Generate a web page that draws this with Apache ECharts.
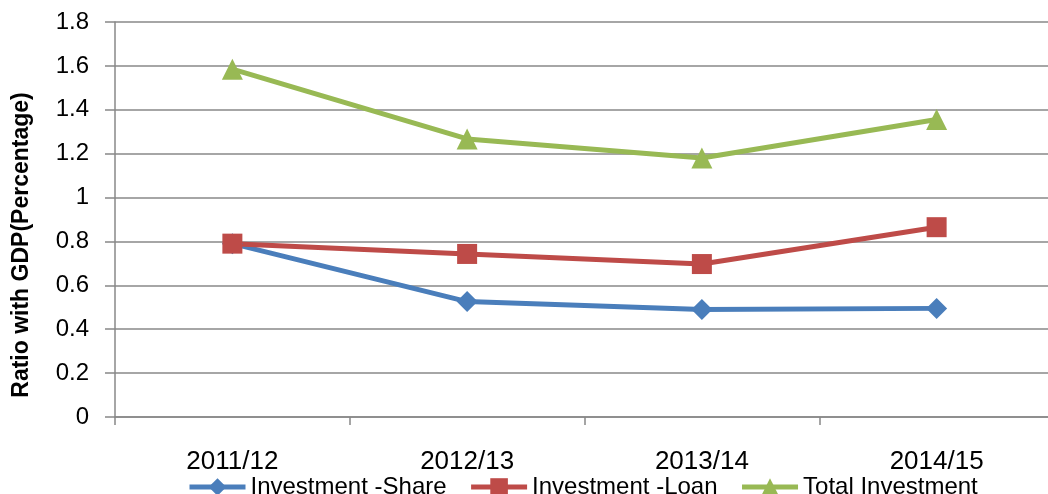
<!DOCTYPE html>
<html>
<head>
<meta charset="utf-8">
<script src="https://cdn.jsdelivr.net/npm/echarts@6/dist/echarts.min.js"></script>
<style>
    html, body { margin: 0; padding: 0; background: #fff; }
    #main { width: 1048px; height: 494px; }
</style>
</head>
<body>
<div id="main"></div>
<script>
    const years = ['2011/12', '2012/13', '2013/14', '2014/15'];
    const shareData = [0.79, 0.526, 0.49, 0.495];
    const loanData = [0.79, 0.743, 0.697, 0.865];
    const totalData = [1.585, 1.267, 1.18, 1.356];

    const font = 'Liberation Sans';
    const gridColor = '#888888';

    const chart = echarts.init(document.getElementById('main'));

    const option = {
        animation: false,
        color: ['#4a7ebb', '#be4b48', '#98b954'],
        textStyle: { fontFamily: font, color: '#000' },
        grid: {
            left: 115,
            top: 22,
            bottom: 77,
            width: 939,
            outerBoundsMode: 'none'
        },
        legend: {
            left: 182,
            top: 470,
            itemWidth: 56,
            itemHeight: 22,
            itemGap: 22,
            lineStyle: { width: 5 },
            textStyle: { fontSize: 24, fontFamily: font, color: '#000' },
            data: ['Investment -Share', 'Investment -Loan', 'Total Investment']
        },
        graphic: [{
            type: 'text',
            x: 10,
            y: 245,
            rotation: Math.PI / 2,
            style: {
                text: 'Ratio with GDP(Percentage)',
                font: 'bold 23px "Liberation Sans"',
                fill: '#000',
                align: 'center',
                verticalAlign: 'top'
            }
        }],
        xAxis: {
            type: 'category',
            data: years,
            axisLine: { lineStyle: { color: gridColor, width: 1.5 } },
            axisTick: { show: true, length: 8, lineStyle: { color: gridColor, width: 1.5 } },
            axisLabel: { fontSize: 26, margin: 32, color: '#000' }
        },
        yAxis: {
            type: 'value',
            min: 0,
            max: 1.8,
            interval: 0.2,
            axisLine: { show: true, lineStyle: { color: gridColor, width: 1.5 } },
            axisTick: { show: true, length: 10, lineStyle: { color: gridColor, width: 1.5 } },
            axisLabel: {
                fontSize: 24,
                margin: 26,
                color: '#000',
                formatter: v => String(Math.round(v * 10) / 10)
            },
            splitLine: { lineStyle: { color: gridColor, width: 1.5 } }
        },
        series: [
            {
                name: 'Investment -Share',
                type: 'line',
                data: shareData,
                symbol: 'diamond',
                symbolSize: 21,
                lineStyle: { width: 5 }
            },
            {
                name: 'Investment -Loan',
                type: 'line',
                data: loanData,
                symbol: 'rect',
                symbolSize: 20,
                lineStyle: { width: 5 }
            },
            {
                name: 'Total Investment',
                type: 'line',
                data: totalData,
                symbol: 'triangle',
                symbolSize: 21,
                lineStyle: { width: 5 }
            }
        ]
    };

    chart.setOption(option);
</script>
</body>
</html>
